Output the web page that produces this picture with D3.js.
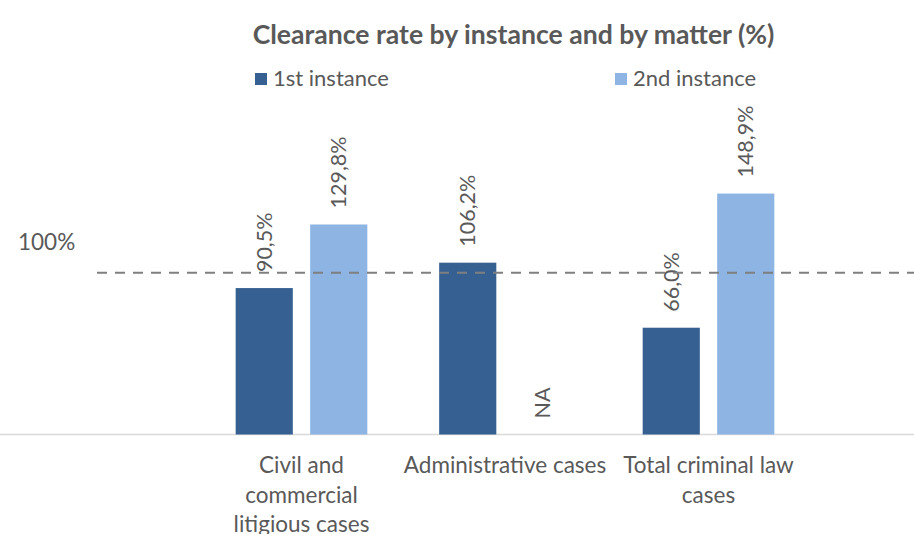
<!DOCTYPE html>
<html>
<head>
<meta charset="utf-8">
<script src="https://cdn.jsdelivr.net/npm/d3@7"></script>
<style>
  html, body { margin: 0; padding: 0; background: #fff; }
  svg { display: block; }
  text { font-family: Lato, "Open Sans", sans-serif; fill: #595959; }
</style>
</head>
<body>
<svg id="chart" width="914" height="534"></svg>
<script>
// ---- data ----
const categories = ["Civil and\ncommercial\nlitigious cases", "Administrative cases", "Total criminal law\ncases"];
const seriesNames = ["1st instance", "2nd instance"];
const firstInstance = [90.5, 106.2, 66.0];
const secondInstance = [129.8, null, 148.9];
const referenceValue = 100;
const referenceLabel = "100%";
const title = "Clearance rate by instance and by matter (%)";
const colors = ["#376092", "#8eb4e3"];

// ---- layout ----
const W = 914, H = 534;
const svg = d3.select("#chart");
const baseY = 434.5;

const x0 = d3.scaleBand()
  .domain(categories)
  .range([199.75, 810.25])
  .paddingInner(0.353)
  .paddingOuter(0.1765);

const x1 = d3.scaleBand()
  .domain(seriesNames)
  .range([0, x0.bandwidth()])
  .paddingInner(0.233);

const y = d3.scaleLinear().domain([0, 100]).range([baseY, 272.7]);

const fmt = v => d3.format(".1f")(v).replace(".", ",") + "%";

// title
svg.append("text")
  .attr("x", 513.5).attr("y", 44)
  .attr("text-anchor", "middle")
  .style("font-weight", "bold")
  .style("font-size", "26.6px")
  .text(title);

// legend
const legendX = [255, 615];
seriesNames.forEach((s, i) => {
  const g = svg.append("g").attr("transform", `translate(${legendX[i]},0)`);
  g.append("rect").attr("x", 0).attr("y", 73).attr("width", 12).attr("height", 12).attr("fill", colors[i]);
  g.append("text").attr("x", 18).attr("y", 86).style("font-size", "22px").text(s);
});

// baseline
svg.append("line")
  .attr("x1", 0).attr("x2", W)
  .attr("y1", baseY).attr("y2", baseY)
  .attr("stroke", "#d9d9d9").attr("stroke-width", 1.5);

// bars
const rows = categories.map((c, i) => ({ cat: c, vals: [firstInstance[i], secondInstance[i]] }));
const groups = svg.selectAll("g.cat").data(rows).join("g")
  .attr("class", "cat")
  .attr("transform", d => `translate(${x0(d.cat)},0)`);

groups.selectAll("rect").data(d => d.vals.map((v, j) => ({ v, s: seriesNames[j], j })).filter(e => e.v != null))
  .join("rect")
  .attr("x", e => x1(e.s))
  .attr("width", x1.bandwidth())
  .attr("y", e => y(e.v))
  .attr("height", e => baseY - y(e.v))
  .attr("fill", e => colors[e.j]);

// value labels (rotated)
groups.selectAll("text.val").data(d => d.vals.map((v, j) => ({ v, s: seriesNames[j], j })))
  .join("text")
  .attr("class", "val")
  .attr("transform", e => `translate(${x1(e.s) + x1.bandwidth() / 2 + 7.5},${y(e.v == null ? 0 : e.v) - 16}) rotate(-90)`)
  .style("font-size", "21.5px")
  .text(e => e.v == null ? "NA" : fmt(e.v));

// reference dashed line
svg.append("line")
  .attr("x1", 97).attr("x2", W)
  .attr("y1", y(referenceValue)).attr("y2", y(referenceValue))
  .attr("stroke", "#7f7f7f").attr("stroke-width", 2)
  .attr("stroke-dasharray", "10,8");

svg.append("text")
  .attr("x", 18).attr("y", 250)
  .style("font-size", "22.5px")
  .text(referenceLabel);

// category labels
groups.each(function (d) {
  const lines = d.cat.split("\n");
  const t = d3.select(this).append("text")
    .attr("text-anchor", "middle")
    .style("font-size", "22.5px");
  lines.forEach((l, k) => {
    t.append("tspan").attr("x", x0.bandwidth() / 2).attr("y", 473 + k * 29.5).text(l);
  });
});
</script>
</body>
</html>
